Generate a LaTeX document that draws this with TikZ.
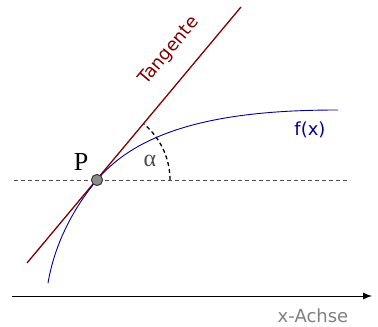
\documentclass[tikz,border=0pt]{standalone}
\usepackage{fontspec}
\newfontfamily\labelfont{DejaVu Sans}
\newfontfamily\greekfont{Liberation Serif}
\usetikzlibrary{arrows.meta,positioning}
\definecolor{tangred}{RGB}{128,0,0}
\definecolor{curveblue}{RGB}{0,0,150}
\definecolor{axisgray}{RGB}{128,128,128}

\begin{document}
\begin{tikzpicture}[
    x=1pt, y=1pt,
    lbl/.style={font=\labelfont\fontsize{18}{20}\selectfont, inner sep=0pt},
    dashline/.style={dash pattern=on 4pt off 3pt, line width=0.9pt},
    pointdot/.style={circle, draw=black!80, fill=black!45, line width=0.8pt, minimum size=11pt, inner sep=0pt}
]
\useasboundingbox (0,0) rectangle (378,327);
% axis
\coordinate (axL) at (12,31);
\coordinate (axR) at (372,31);
\draw[line width=0.9pt, -{Latex[length=9pt, width=7pt]}] (axL) -- (axR);
\node[lbl, text=axisgray] (axlabel) at (313,11) {x-Achse};
% horizontal through P
\coordinate (hL) at (14,147);
\coordinate (hR) at (350,147);
\draw[dashline, black!70] (hL) -- (hR);
% tangent
\coordinate (tA) at (27,64);
\coordinate (tB) at (241,320);
\draw[tangred, line width=1.3pt] (tA) -- (tB);
\node[lbl, text=tangred, rotate=50] (tlabel) at (169,276) {Tangente};
% curve
\coordinate (c0) at (48,44);
\coordinate (c1) at (338,217);
\node[pointdot] (P) at (97,147) {};
\draw[curveblue, line width=0.9pt] (c0) .. controls (55,85) and (74.5,120.2) .. (P.center)
    .. controls (145,204.5) and (240,217) .. (c1);
\node[lbl, text=curveblue] (flabel) at (310,197) {f(x)};
% angle
\draw[black, dashline, line width=1.3pt] (170,147) arc[start angle=0, end angle=50, radius=73];
\node[text=black!70, font=\greekfont\fontsize{24}{26}\selectfont] (alpha) at (150,166) {α};
\node[font=\greekfont\fontsize{26}{28}\selectfont] (plabel) at (81,165) {P};
\node[pointdot] at (P) {};
\end{tikzpicture}
\end{document}
